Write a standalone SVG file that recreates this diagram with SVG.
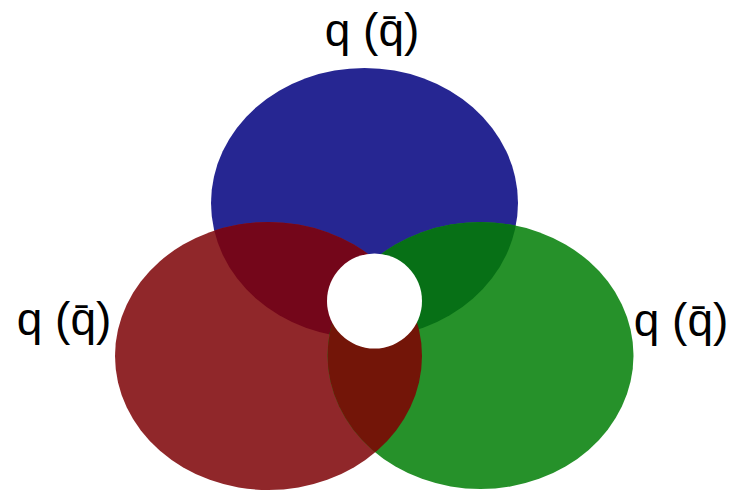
<svg xmlns="http://www.w3.org/2000/svg" width="738" height="491" viewBox="0 0 738 491">
  <style>
    .lbl { font-family: "Liberation Sans", Arial, sans-serif; font-size: 46px; fill: #000; text-anchor: middle; }
  </style>
  <defs>
    <ellipse id="eb" cx="364.5" cy="203" rx="153.5" ry="135"/>
    <ellipse id="er" cx="268.5" cy="356" rx="153.5" ry="134"/>
    <ellipse id="eg" cx="480.5" cy="355.5" rx="153" ry="133.5"/>
    <clipPath id="cb"><use href="#eb"/></clipPath>
    <clipPath id="cr"><use href="#er"/></clipPath>
  </defs>
  <g id="blue"><use href="#eb" fill="#262692"/></g>
  <g id="red"><use href="#er" fill="#90272A"/></g>
  <g id="green"><use href="#eg" fill="#26912A"/></g>
  <g id="overlaps">
    <use href="#er" fill="#74061A" clip-path="url(#cb)"/>
    <use href="#eg" fill="#077016" clip-path="url(#cb)"/>
    <use href="#eg" fill="#731508" clip-path="url(#cr)"/>
  </g>
  <g id="center"><circle cx="374.5" cy="301" r="47.5" fill="#fff"/></g>
  <g id="labels">
    <text class="lbl" x="372" y="46">q (q̄)</text>
    <text class="lbl" x="64" y="335">q (q̄)</text>
    <text class="lbl" x="681" y="336">q (q̄)</text>
  </g>
</svg>
